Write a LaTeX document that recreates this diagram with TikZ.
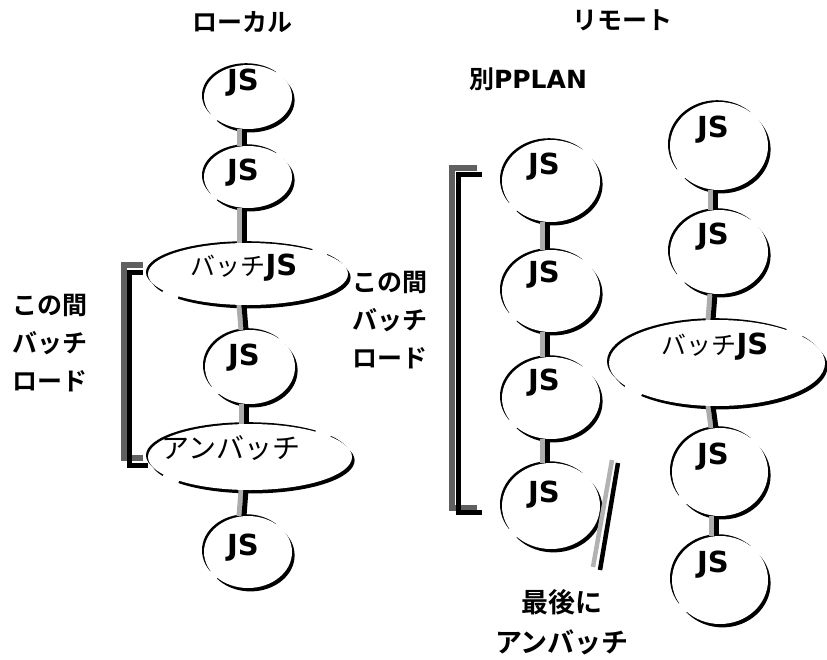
\documentclass[tikz,border=0pt]{standalone}
\usepackage{fontspec}
\usetikzlibrary{shapes.geometric,calc}
\newfontfamily\jp{Noto Sans CJK JP}[BoldFont={Noto Sans CJK JP Bold}]
\newfontfamily\jsf{DejaVu Sans Bold}
\pgfdeclarelayer{background}
\pgfsetlayers{background,main}
\tikzset{
  ellbase/.style={ellipse, fill=white, draw=none, inner sep=0pt, outer sep=0pt},
  jst/.style={font=\jsf\fontsize{29}{30}\selectfont, inner sep=0pt},
  lab/.style={font=\jp\fontsize{25}{27}\selectfont, inner sep=0pt},
  blab/.style={font=\jp\bfseries\fontsize{25}{27}\selectfont, inner sep=0pt},
  stack/.style={font=\jp\bfseries\fontsize{25}{38}\selectfont, inner sep=0pt, align=center},
  linkg/.style={draw=gray!65, line width=5pt},
  linkb/.style={draw=black, line width=5pt},
  brg/.style={draw=gray!75!black, line width=6pt},
  brb/.style={draw=black, line width=5pt},
  gapmark/.style={draw=white, line width=7pt},
}
\newcommand\brushnode[5]{%
  \node[ellbase, minimum width={2*#4pt}, minimum height={2*#5pt}] (#1) at (#2,#3) {};
  \begin{pgfonlayer}{background}
    \fill ([shift={(-2pt,1.8pt)}]#1.center) ellipse [x radius=#4pt, y radius=#5pt];
    \fill ([shift={(2.6pt,-3.4pt)}]#1.center) ellipse [x radius=#4pt, y radius=#5pt];
  \end{pgfonlayer}
  \draw[gapmark] ([shift={(38:#4pt and #5pt)}]#1.center) arc[start angle=38, end angle=50, x radius=#4pt, y radius=#5pt];
  \draw[gapmark] ([shift={(212:#4pt and #5pt)}]#1.center) arc[start angle=212, end angle=226, x radius=#4pt, y radius=#5pt];}
\newcommand\linknodes[2]{%
  \begin{pgfonlayer}{background}
    \draw[linkg] ([xshift=-9pt]#1.south) -- ([xshift=-9pt]#2.north);
    \draw[linkb] ([xshift=-4pt]#1.south) -- ([xshift=-4pt]#2.north);
  \end{pgfonlayer}}
\begin{document}
\begin{tikzpicture}[x=1pt,y=-1pt]
\path[use as bounding box] (0,0) rectangle (827,659);

% ---------- left column (local) ----------
\node[blab] (tLocal) at (242,22) {ローカル};
\brushnode{L1}{248}{97}{44}{32}
\brushnode{L2}{248}{177}{44}{31}
\brushnode{L3}{248}{274}{100}{31}
\brushnode{L4}{250}{367}{45}{37}
\brushnode{L5}{250}{457}{102}{33}
\brushnode{L6}{248}{552}{44}{36}
\node[jst] (L1t) at (243,83) {JS};
\node[jst] (L2t) at (243,173) {JS};
\node[inner sep=0pt] (L3t) at (244,268) {{\jp\fontsize{25}{27}\selectfont バッチ}{\jsf\fontsize{29}{30}\selectfont JS}};
\node[jst] (L4t) at (244,358) {JS};
\node[lab, font=\jp\fontsize{28}{30}\selectfont] (L5t) at (231,448) {アンバッチ};
\node[jst] (L6t) at (243,548) {JS};
\linknodes{L1}{L2}
\linknodes{L2}{L3}
\linknodes{L3}{L4}
\linknodes{L4}{L5}
\linknodes{L5}{L6}

% left bracket
\draw[brg] (143,264.5) -- (123.5,264.5) -- (123.5,457.5) -- (143,457.5);
\draw[brb] (143,272.5) -- (129.5,272.5) -- (129.5,465) -- (148,465);
\node[stack] (labL) at (50,343) {この間\\バッチ\\ロード};

% ---------- remote ----------
\node[blab] (tRemote) at (622,20) {リモート};
\node[inner sep=0pt] (tPlan) at (528,79) {{\jp\bfseries\fontsize{25}{27}\selectfont 別}{\jsf\fontsize{25}{27}\selectfont PPLAN}};

% middle column
\brushnode{M1}{551}{181}{49}{41}
\brushnode{M2}{551}{291}{49}{41}
\brushnode{M3}{551}{398}{49}{41}
\brushnode{M4}{551}{506}{49}{43}
\node[jst] (M1t) at (544,167) {JS};
\node[jst] (M2t) at (544,275) {JS};
\node[jst] (M3t) at (544,383) {JS};
\node[jst] (M4t) at (544,495) {JS};
\linknodes{M1}{M2}
\linknodes{M2}{M3}
\linknodes{M3}{M4}

% middle bracket
\draw[brg] (477,167.5) -- (451.5,167.5) -- (451.5,507.5) -- (477,507.5);
\draw[brb] (482,174.5) -- (458,174.5) -- (458,512.5) -- (482,512.5);
\node[stack] (labM) at (390,320) {この間\\バッチ\\ロード};

% slash near last JS
\coordinate (sgA) at (612,460);
\coordinate (sgB) at (593,567);
\coordinate (sbA) at (618,463);
\coordinate (sbB) at (600,570);
\draw[draw=gray!60, line width=4.5pt] (sgA) -- (sgB);
\draw[draw=black, line width=4.5pt] (sbA) -- (sbB);
\node[stack, font=\jp\bfseries\fontsize{27}{40}\selectfont] (labLast) at (562,622) {最後に\\アンバッチ};

% right column
\brushnode{R1}{719}{146}{49}{44}
\brushnode{R2}{719}{252}{49}{42}
\brushnode{R3}{717}{363}{108}{43}
\brushnode{R4}{720}{472}{48}{44}
\brushnode{R5}{720}{580}{48}{44}
\node[jst] (R1t) at (713,130) {JS};
\node[jst] (R2t) at (713,237) {JS};
\node[inner sep=0pt] (R3t) at (715,347) {{\jp\fontsize{25}{27}\selectfont バッチ}{\jsf\fontsize{29}{30}\selectfont JS}};
\node[jst] (R4t) at (713,457) {JS};
\node[jst] (R5t) at (713,565) {JS};
\linknodes{R1}{R2}
\linknodes{R2}{R3}
\linknodes{R3}{R4}
\linknodes{R4}{R5}
\end{tikzpicture}
\end{document}
